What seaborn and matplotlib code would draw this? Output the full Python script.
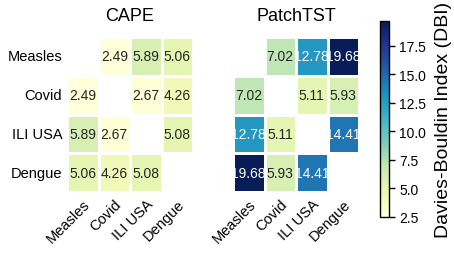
import numpy as np
import pandas as pd
import matplotlib
matplotlib.use("Agg")
import matplotlib.pyplot as plt
import seaborn as sns

diseases = ["Measles", "Covid", "ILI USA", "Dengue"]
models = ["CAPE", "PatchTST"]

# pairwise DBI values (upper triangle, mirrored)
cape_pairs = {("Measles", "Covid"): 2.49, ("Measles", "ILI USA"): 5.89,
              ("Measles", "Dengue"): 5.06, ("Covid", "ILI USA"): 2.67,
              ("Covid", "Dengue"): 4.26, ("ILI USA", "Dengue"): 5.08}
patch_pairs = {("Measles", "Covid"): 7.02, ("Measles", "ILI USA"): 12.78,
               ("Measles", "Dengue"): 19.68, ("Covid", "ILI USA"): 5.11,
               ("Covid", "Dengue"): 5.93, ("ILI USA", "Dengue"): 14.41}


def build_matrix(pairs):
    df = pd.DataFrame(np.nan, index=diseases, columns=diseases)
    for (a, b), v in pairs.items():
        df.loc[a, b] = v
        df.loc[b, a] = v
    return df


mats = [build_matrix(cape_pairs), build_matrix(patch_pairs)]
vmin = min(m.min().min() for m in mats)
vmax = max(m.max().max() for m in mats)

sns.set_style("white")
plt.rcParams['font.family'] = ['Liberation Sans', 'DejaVu Sans']
plt.rcParams['text.color'] = 'black'
plt.rcParams['axes.labelcolor'] = 'black'
plt.rcParams['xtick.color'] = 'black'
plt.rcParams['ytick.color'] = 'black'

fig = plt.figure(figsize=(4.54, 2.55), dpi=100)
ax1 = fig.add_axes([67/454, 1 - 193/255, 126/454, 155/255])
ax2 = fig.add_axes([233/454, 1 - 193/255, 126/454, 155/255])
cax = fig.add_axes([380/454, 1 - 218/255, 9/454, 196/255])

mask = np.eye(len(diseases), dtype=bool)
for i, (ax, mat, name) in enumerate(zip([ax1, ax2], mats, models)):
    sns.heatmap(mat, ax=ax, mask=mask, cmap="YlGnBu", vmin=vmin, vmax=vmax,
                annot=True, fmt=".2f", annot_kws={"size": 10},
                linewidths=1, linecolor="white",
                cbar=(i == 1), cbar_ax=cax if i == 1 else None)
    ax.set_title(name, fontsize=13, pad=12)
    ax.set_xticklabels(diseases, rotation=45, ha="right", rotation_mode="anchor", fontsize=10.5)
    if i == 0:
        ax.set_yticklabels(diseases, rotation=0, fontsize=10.5)
    else:
        ax.set_yticklabels([])
    ax.tick_params(length=0)

cbar = ax2.collections[0].colorbar
cbar.set_ticks([2.5, 5.0, 7.5, 10.0, 12.5, 15.0, 17.5])
cbar.ax.tick_params(right=True, labelsize=10, length=4, width=1, direction="out", color="black")
cbar.outline.set_edgecolor("black")
cbar.outline.set_linewidth(1)
cbar.set_label("Davies-Bouldin Index (DBI)", fontsize=14, labelpad=6)

fig.savefig("out.png", dpi=100)
